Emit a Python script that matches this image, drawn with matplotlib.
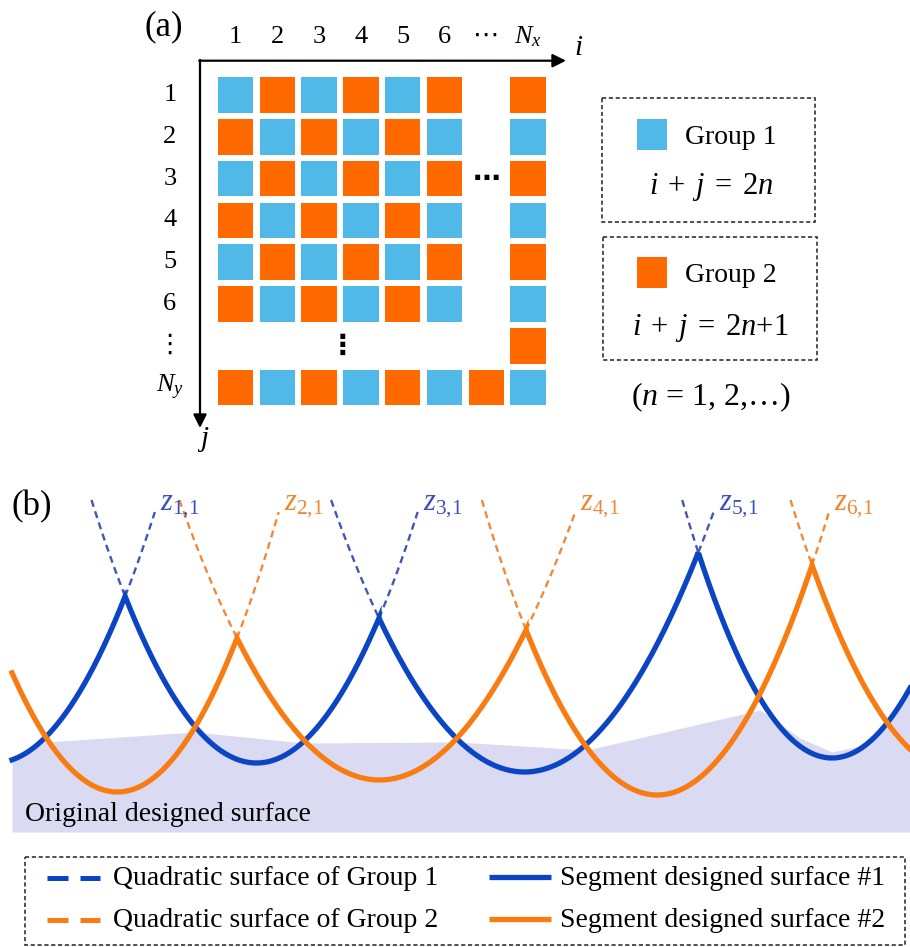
"""Two-group checkerboard partition and the segmented surface it produces."""

import matplotlib.pyplot as plt
import numpy as np
from matplotlib.patches import Rectangle

plt.rcParams["font.family"] = ["Liberation Serif", "DejaVu Sans"]
plt.rcParams["mathtext.fontset"] = "custom"
plt.rcParams["mathtext.rm"] = "Liberation Serif"
plt.rcParams["mathtext.it"] = "Liberation Serif:italic"

# ---- panel (a): which cells of the i/j grid are drawn -----------------------
shown_cols = [1, 2, 3, 4, 5, 6, 8]          # column 7 stands for "..."
shown_rows = [1, 2, 3, 4, 5, 6, 8]          # row 7 stands for "..."
extra_cells = [(7, 8), (8, 7)]              # elided index kept on the last row/column
col_labels = ["1", "2", "3", "4", "5", "6", "\u22ef", "$N_x$"]
row_labels = ["1", "2", "3", "4", "5", "6", "\u22ee", "$N_y$"]

# ---- panel (b): quadratic pieces, z = z0 + k * (x - x0)**2 ------------------
g1_x0 = [-6.0, 256.5, 524.5, 832.0]
g1_z0 = [69.0, 69.0, 60.0, 74.0]
g1_k = [0.0097, 0.00966, 0.00727, 0.0115]

g2_x0 = [117.3, 379.5, 657.2, 960.0]
g2_z0 = [40.0, 52.0, 37.0, 59.0]
g2_k = [0.01075, 0.00699, 0.00959, 0.0095]

# original designed surface profile
orig_x = [12, 45, 195, 305, 457, 587, 760, 800, 832, 860, 887, 910]
orig_z = [74, 90, 100, 89, 90, 82, 122, 94, 80, 86, 105, 140]

BLUE_CELL, ORANGE_CELL = "#50b9e8", "#ff6a00"
BLUE_LINE, ORANGE_LINE = "#0b45c4", "#f97c12"
BLUE_DASH, ORANGE_DASH = "#4456b4", "#f08a3a"
BLUE_TEXT, ORANGE_TEXT = "#3d4ec0", "#ef8630"
SURFACE_FILL = "#dadaf2"
BOX_STYLE = dict(fill=False, edgecolor="#333333", lw=1.2, linestyle=(0, (2.5, 1.6)))

W, H = 910, 947


def px_axes(fig, left, top, right, bottom):
    """Add an axes whose bounds are given in pixels from the top-left corner."""
    return fig.add_axes([left / W, 1 - bottom / H, (right - left) / W, (bottom - top) / H])


def crossing(k1, a, z1, k2, b, z2):
    """x where two vertex-form parabolas meet, between their vertices."""
    coeffs = [k1 - k2, -2 * k1 * a + 2 * k2 * b, k1 * a * a + z1 - k2 * b * b - z2]
    roots = np.roots(coeffs)
    roots = roots[np.isreal(roots)].real
    lo, hi = min(a, b), max(a, b)
    return float(roots[(roots >= lo) & (roots <= hi)][0])


def draw_group(axis, x0s, z0s, ks, line_color, dash_color, x_min, x_max,
               top_left=332.0, top_right=320.0):
    """Draw the lower envelope of a group plus dashed continuations at cusps."""
    n = len(x0s)
    cusps = [crossing(ks[p], x0s[p], z0s[p], ks[p + 1], x0s[p + 1], z0s[p + 1])
             for p in range(n - 1)]
    env_x, env_z, tips = [], [], []
    for p in range(n):
        x0, z0, k = x0s[p], z0s[p], ks[p]
        left = cusps[p - 1] if p > 0 else x_min
        right = cusps[p] if p < n - 1 else x_max
        xs = np.linspace(max(left, x_min), min(right, x_max), 200)
        env_x.append(xs)
        env_z.append(z0 + k * (xs - x0) ** 2)
        if p > 0:
            x_end = x0 - np.sqrt((top_left - z0) / k)
            xs = np.linspace(x_end, left, 60)
            axis.plot(xs, z0 + k * (xs - x0) ** 2, color=dash_color, lw=1.7,
                      linestyle=(0, (3, 2)), zorder=3)
        if p < n - 1:
            x_end = x0 + np.sqrt((top_right - z0) / k)
            xs = np.linspace(right, x_end, 60)
            axis.plot(xs, z0 + k * (xs - x0) ** 2, color=dash_color, lw=1.7,
                      linestyle=(0, (3, 2)), zorder=3)
            tips.append((right, x_end))
    axis.plot(np.concatenate(env_x), np.concatenate(env_z), color=line_color,
              lw=3.8, solid_joinstyle="miter", zorder=4)
    return tips


fig = plt.figure(figsize=(W / 100, H / 100), dpi=100)

# ---- panel (a) grid ---------------------------------------------------------
ax_grid = px_axes(fig, 214.6, 74.1, 549.0, 408.5)
ax_grid.set_xlim(0.5, 8.5)
ax_grid.set_ylim(8.5, 0.5)
ax_grid.axis("off")

cells = [(i, j) for j in shown_rows for i in shown_cols] + extra_cells
size = 0.85
for i, j in cells:
    color = BLUE_CELL if (i + j) % 2 == 0 else ORANGE_CELL
    ax_grid.add_patch(Rectangle((i - size / 2, j - size / 2), size, size,
                                facecolor=color, edgecolor="none"))

for idx, label in enumerate(col_labels, start=1):
    ax_grid.text(idx, -0.39, label, ha="center", va="center", fontsize=19, clip_on=False)
for idx, label in enumerate(row_labels, start=1):
    ax_grid.text(-0.57, idx, label, ha="center", va="center", fontsize=19, clip_on=False)

# elided cells inside the grid
ax_grid.text(7, 3, "\u22ef", ha="center", va="center", fontsize=20,
             fontweight="bold", family="DejaVu Sans")
ax_grid.text(3.55, 7, "\u22ee", ha="center", va="center", fontsize=20,
             fontweight="bold", family="DejaVu Sans")

# ---- panel (b) surfaces -----------------------------------------------------
ax_surf = px_axes(fig, 0, 470, W, 832)
ax_surf.set_xlim(0, W)
ax_surf.set_ylim(0, 362)
ax_surf.axis("off")

ax_surf.fill_between(orig_x, 0, orig_z, color=SURFACE_FILL, lw=0, zorder=1)
tips1 = draw_group(ax_surf, g1_x0, g1_z0, g1_k, BLUE_LINE, BLUE_DASH, 12, W)
tips2 = draw_group(ax_surf, g2_x0, g2_z0, g2_k, ORANGE_LINE, ORANGE_DASH, 12, W)

cusp_marks = [(c, t, BLUE_TEXT) for c, t in tips1] + [(c, t, ORANGE_TEXT) for c, t in tips2]
cusp_marks.sort()
for n, (_, tip, color) in enumerate(cusp_marks, start=1):
    ax_surf.text(tip + 5, 326, f"$z_{{{n},\\!1}}$", color=color, fontsize=22,
                 ha="left", va="center")

# ---- annotations in pixel coordinates --------------------------------------
ax = fig.add_axes([0, 0, 1, 1], facecolor="none")
ax.set_xlim(0, W)
ax.set_ylim(H, 0)
ax.axis("off")

ax.text(164, 27, "(a)", fontsize=25, ha="center", va="center")
ax.text(32, 507, "(b)", fontsize=25, ha="center", va="center")

arrow = dict(arrowstyle="-|>", mutation_scale=20, lw=1.6, color="black",
             shrinkA=0, shrinkB=0)
ax.annotate("", xy=(566, 60.7), xytext=(199.2, 60.7), arrowprops=arrow)
ax.annotate("", xy=(200, 428), xytext=(200, 59.9), arrowprops=arrow)
ax.text(579, 48, "$i$", fontsize=21, ha="center", va="center")
ax.text(203, 439, "$j$", fontsize=21, ha="center", va="center")

# group key boxes
ax.add_patch(Rectangle((602, 98), 213, 124, **BOX_STYLE))
ax.add_patch(Rectangle((603, 237), 214, 123, **BOX_STYLE))
ax.add_patch(Rectangle((637, 119), 30, 31, facecolor=BLUE_CELL, edgecolor="none"))
ax.add_patch(Rectangle((637, 257), 30, 31, facecolor=ORANGE_CELL, edgecolor="none"))
ax.text(685, 137, "Group 1", fontsize=20, ha="left", va="center")
ax.text(685, 275, "Group 2", fontsize=20, ha="left", va="center")
ax.text(711, 187, r"$i\;+\;j\;=\;2n$", fontsize=22, ha="center", va="center")
ax.text(710, 328, r"$i\;+\;j\;=\;2n$+1", fontsize=22, ha="center", va="center")
ax.text(711, 397, "($n$ = 1, 2,\u2026)", fontsize=23, ha="center", va="center")

ax.text(25, 814, "Original designed surface", fontsize=20, ha="left", va="center")

# line key
ax.add_patch(Rectangle((25, 857), 880, 88, **BOX_STYLE))
key_rows = [(878, BLUE_LINE, "Quadratic surface of Group 1", "Segment designed surface #1"),
            (920, ORANGE_LINE, "Quadratic surface of Group 2", "Segment designed surface #2")]
for y, color, dashed_label, solid_label in key_rows:
    ax.plot([47, 100], [y, y], color=color, lw=3.6, dashes=(4.2, 2.4))
    ax.text(113, y, dashed_label, fontsize=20, ha="left", va="center")
    ax.plot([489, 551], [y - 1, y - 1], color=color, lw=3.8, solid_capstyle="butt")
    ax.text(560, y, solid_label, fontsize=20, ha="left", va="center")

fig.savefig("out.png", dpi=100)
